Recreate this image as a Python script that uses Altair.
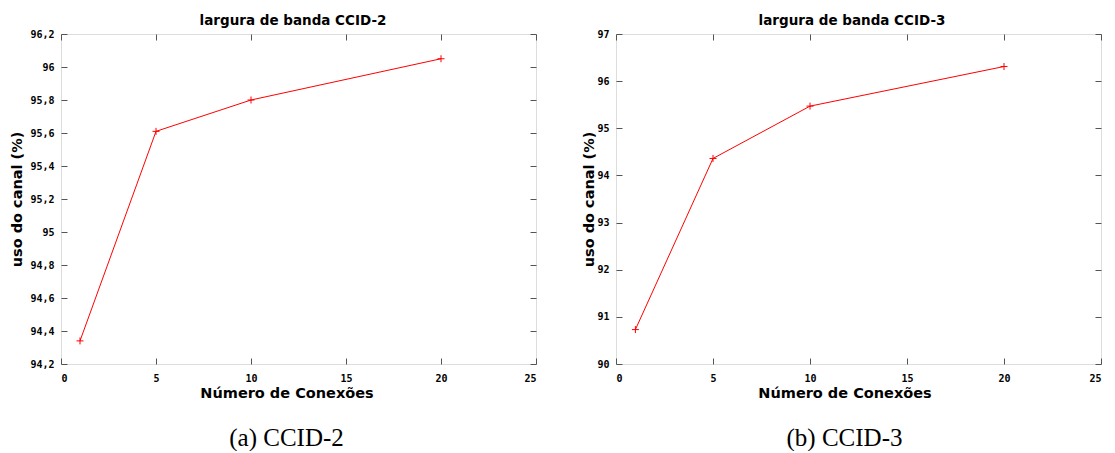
import altair as alt
import pandas as pd

conexoes = [1, 5, 10, 20]
uso_ccid2 = [94.34, 95.61, 95.80, 96.05]
uso_ccid3 = [90.73, 94.36, 95.47, 96.31]
x_ticks = [0, 5, 10, 15, 20, 25]
y_ticks_ccid2 = [94.2, 94.4, 94.6, 94.8, 95.0, 95.2, 95.4, 95.6, 95.8, 96.0, 96.2]
y_ticks_ccid3 = [90, 91, 92, 93, 94, 95, 96, 97]
titles = ["largura de banda CCID-2", "largura de banda CCID-3"]
captions = ["(a) CCID-2", "(b) CCID-3"]
x_title = "Número de Conexões"
y_title = "uso do canal (%)"

LABEL_EXPR = "replace(format(datum.value, '.1~f'), '.', ',')"
FRAME = "#555555"
RED = "#ff0000"


def axis_style(**kw):
    base = dict(
        offset=-6, tickSize=6, tickColor=FRAME, tickWidth=1, domain=False, grid=False,
        labelFont="DejaVu Sans Mono", labelFontWeight="bold", labelFontSize=10,
        labelColor="black", titleFont="DejaVu Sans", titleFontWeight="bold",
        titleFontSize=14.5, titleColor="black",
    )
    base.update(kw)
    return alt.Axis(**base)


def panel(values, yticks, ydom, title, caption, width, ytitle_x, shift):
    df = pd.DataFrame({"x": conexoes, "y": values})
    xs = alt.Scale(domain=[0, 25], nice=False, zero=False)
    ys = alt.Scale(domain=ydom, nice=False, zero=False)
    line = alt.Chart(df).mark_line(color=RED, strokeWidth=1).encode(
        x=alt.X("x:Q", scale=xs, axis=axis_style(orient="bottom", values=x_ticks, format="d",
                                                labelPadding=9, title=x_title, titlePadding=3,
                                                titleX=width / 2 + shift)),
        y=alt.Y("y:Q", scale=ys, axis=axis_style(orient="left", values=yticks, labelExpr=LABEL_EXPR,
                                                labelPadding=7, title=y_title, titleX=ytitle_x)),
    )
    pts = alt.Chart(df).mark_point(
        shape="M-1,0L1,0M0,-1L0,1", size=49, color=RED, strokeWidth=1, filled=False, opacity=1
    ).encode(
        x=alt.X("x:Q", scale=xs, axis=axis_style(orient="top", values=x_ticks, labels=False,
                                                title=title, titlePadding=6, titleFontSize=13.5,
                                                titleX=width / 2 + shift / 2)),
        y=alt.Y("y:Q", scale=ys, axis=axis_style(orient="right", values=yticks, labels=False, title=None)),
    )
    return alt.layer(line, pts).resolve_axis(x="independent", y="independent").properties(
        width=width, height=330,
        title=alt.TitleParams(caption, orient="bottom", font="Liberation Serif", fontSize=25,
                              fontWeight="normal", color="black", offset=26, anchor="middle",
                              dx=shift),
    )


p1 = panel(uso_ccid2, y_ticks_ccid2, [94.2, 96.2], titles[0], captions[0], 475, -43, -12)
p2 = panel(uso_ccid3, y_ticks_ccid3, [90, 97], titles[1], captions[1], 485, -26, -14)

chart = alt.hconcat(p1, p2, spacing=43, padding={"left": 0, "top": 5, "right": 0, "bottom": 0}).configure_view(
    stroke=FRAME, strokeWidth=1
).configure(background="white")

chart.save("out.html", embed_options={"renderer": "svg", "actions": False})
